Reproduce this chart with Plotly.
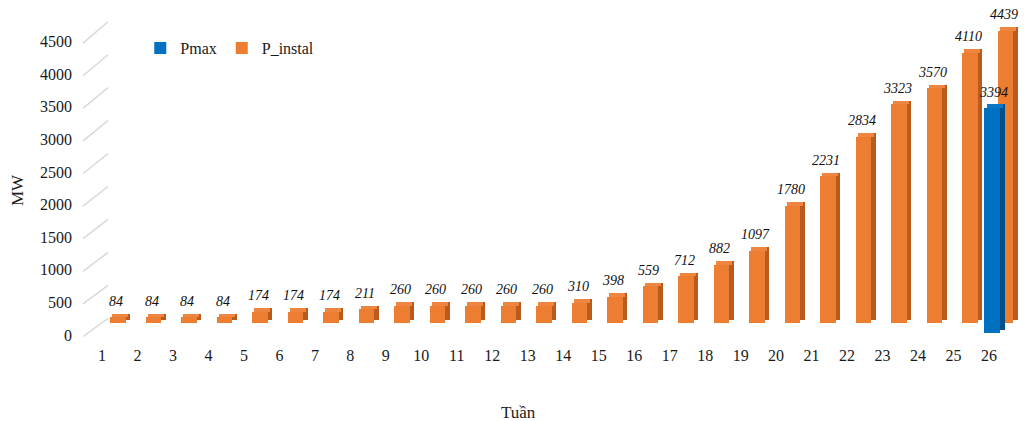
import plotly.graph_objects as go

# ---- data ----
weeks = list(range(1, 27))
week_labels = [str(w) for w in weeks]
p_instal = [84, 84, 84, 84, 174, 174, 174, 211, 260, 260, 260, 260, 260,
            310, 398, 559, 712, 882, 1097, 1780, 2231, 2834, 3323, 3570, 4110, 4439]
p_max = [None] * 25 + [3394]
y_ticks = list(range(0, 5000, 500))

# ---- canvas geometry (pixels) ----
W, H = 1024, 421
SERIF = "'Liberation Serif', 'Times New Roman', Times, serif"

ORANGE = "#ed7d31"
ORANGE_SIDE = "#b85b1c"
ORANGE_TOP = "#ee8540"
BLUE = "#0070c0"
BLUE_SIDE = "#004f8a"
BLUE_TOP = "#0a78c6"
GRID = "#d9d9d9"
TEXT = "#1a1a1a"


def xdom(left, right):
    return [left / W, right / W]


def ydom(top, bottom):
    return [1 - bottom / H, 1 - top / H]


def lin_xrange(first_px, step, left, right):
    # category 1 sits at first_px, neighbours are step pixels apart
    return [1 + (left - first_px) / step, 1 + (right - first_px) / step]


def lin_yrange(zero_px, scale, top, bottom):
    # value 0 sits at zero_px, scale is pixels per MW
    return [(zero_px - bottom) / scale, (zero_px - top) / scale]


# back wall / bar row geometry
PLOT_L = 108
STEP = 35.5
BAR1_PX = 118
BAR_W = 0.45
SIDE_DX = 4.5 / STEP         # depth of the side face, in category units
DEPTH_PX = 3.5

GRID_ZERO, GRID_SCALE = 318.3, 0.0659
OR_ZERO, OR_SCALE = 323, 0.0658
BL_ZERO, BL_SCALE = 333, 0.0663
BL_SHIFT = -0.37             # Pmax row sits in front, slightly left

# front axis (labels)
FRONT_L = 73
FRONT_B = 344
FRONT_ZERO, FRONT_SCALE = 335, 0.0652
LAB1_PX, LAB_STEP = 102, 35.48

fig = go.Figure()


def add_3d_bars(values, yaxis, scale, shift, front, side, top, name, rank):
    depth_mw = DEPTH_PX / scale
    half = BAR_W / 2
    # side face (drawn behind)
    fig.add_trace(go.Bar(
        x=weeks, y=values, base=depth_mw, xaxis="x", yaxis=yaxis,
        width=BAR_W, offset=shift - half + SIDE_DX,
        marker=dict(color=side, line=dict(width=0)),
        showlegend=False, hoverinfo="skip"))
    # top face
    fig.add_trace(go.Bar(
        x=weeks, y=[depth_mw if v is not None else None for v in values],
        base=values, xaxis="x", yaxis=yaxis,
        width=BAR_W, offset=shift - half + SIDE_DX / 2,
        marker=dict(color=top, line=dict(width=0)),
        showlegend=False, hoverinfo="skip"))
    # front face
    fig.add_trace(go.Bar(
        x=weeks, y=values, xaxis="x", yaxis=yaxis, name=name,
        width=BAR_W, offset=shift - half, legendrank=rank,
        marker=dict(color=front, line=dict(width=0)),
        hoverinfo="skip"))


add_3d_bars(p_instal, "y2", OR_SCALE, 0.0, ORANGE, ORANGE_SIDE, ORANGE_TOP, "P_instal", 2)
add_3d_bars(p_max, "y3", BL_SCALE, BL_SHIFT, BLUE, BLUE_SIDE, BLUE_TOP, "Pmax", 1)

# carrier for the front category / value axes
fig.add_trace(go.Scatter(
    x=weeks, y=p_instal, xaxis="x2", yaxis="y4", mode="markers",
    marker=dict(size=1, opacity=0), showlegend=False, hoverinfo="skip"))

# value labels
label_font = dict(family=SERIF, size=14, color="#111111", style="italic")
annotations = []
for w, v in zip(weeks, p_instal):
    annotations.append(dict(
        x=w, y=v, xref="x", yref="y2", text=str(v), showarrow=False,
        xshift=-2, yshift=16, yanchor="middle", font=label_font))
for w, v in zip(weeks, p_max):
    if v is None:
        continue
    annotations.append(dict(
        x=w + BL_SHIFT, y=v, xref="x", yref="y3", text=str(v), showarrow=False,
        xshift=1, yshift=15, yanchor="middle", font=label_font))

# axis titles
annotations.append(dict(
    x=518 / W, y=1 - 412 / H, xref="paper", yref="paper", text="Tuần",
    showarrow=False, xanchor="center", yanchor="middle",
    font=dict(family=SERIF, size=17, color=TEXT)))
annotations.append(dict(
    x=18 / W, y=1 - 190 / H, xref="paper", yref="paper", text="MW",
    showarrow=False, textangle=-90, xanchor="center", yanchor="middle",
    font=dict(family=SERIF, size=17, color=TEXT)))

# floor/wall edges joining the front value axis to the back gridlines
shapes = []
for v in y_ticks:
    y_front = FRONT_ZERO - v * FRONT_SCALE + 1.5
    y_back = GRID_ZERO - v * GRID_SCALE
    shapes.append(dict(
        type="line", xref="paper", yref="paper",
        x0=83 / W, y0=1 - y_front / H, x1=PLOT_L / W, y1=1 - y_back / H,
        line=dict(color=GRID, width=1.5), layer="below"))

hidden = dict(showgrid=False, zeroline=False, showline=False,
              showticklabels=False, ticks="")

fig.update_layout(
    width=W, height=H,
    margin=dict(l=0, r=0, t=0, b=0),
    paper_bgcolor="white",
    plot_bgcolor="rgba(0,0,0,0)",
    barmode="overlay",
    bargap=0,
    showlegend=True,
    legend=dict(
        orientation="h", x=0.137, y=1 - 48 / H, xanchor="left", yanchor="middle",
        font=dict(family=SERIF, size=16, color=TEXT),
        bgcolor="rgba(0,0,0,0)", itemclick=False, itemdoubleclick=False,
        tracegroupgap=0),
    xaxis=dict(domain=xdom(PLOT_L, W),
               range=lin_xrange(BAR1_PX, STEP, PLOT_L, W),
               anchor="y", fixedrange=True, **hidden),
    yaxis=dict(domain=[0, 1],
               range=lin_yrange(GRID_ZERO, GRID_SCALE, 0, H),
               anchor="x", tickvals=y_ticks, showgrid=True, gridcolor=GRID,
               gridwidth=1.5, zeroline=False, showline=False,
               showticklabels=False, ticks="", fixedrange=True),
    yaxis2=dict(overlaying="y", anchor="x",
                range=lin_yrange(OR_ZERO, OR_SCALE, 0, H), fixedrange=True, **hidden),
    yaxis3=dict(overlaying="y", anchor="x",
                range=lin_yrange(BL_ZERO, BL_SCALE, 0, H), fixedrange=True, **hidden),
    xaxis2=dict(domain=xdom(FRONT_L, W),
                range=lin_xrange(LAB1_PX, LAB_STEP, FRONT_L, W),
                anchor="y4", tickvals=weeks, ticktext=week_labels,
                showgrid=False, zeroline=False, showline=False, ticks="",
                tickfont=dict(family=SERIF, size=16, color=TEXT), fixedrange=True),
    yaxis4=dict(domain=ydom(0, FRONT_B),
                range=lin_yrange(FRONT_ZERO, FRONT_SCALE, 0, FRONT_B),
                anchor="x2", tickvals=y_ticks, ticktext=[str(v) for v in y_ticks],
                showgrid=False, zeroline=False, showline=False, ticks="",
                tickfont=dict(family=SERIF, size=16, color=TEXT), fixedrange=True),
    annotations=annotations,
    shapes=shapes,
)

fig.write_html("out.html", config={"displayModeBar": False})
